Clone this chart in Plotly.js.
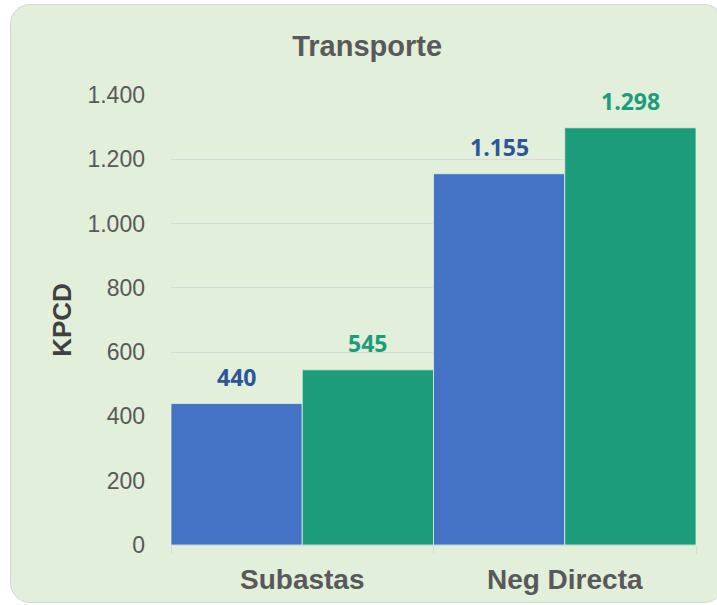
<!DOCTYPE html>
<html><head><meta charset="utf-8">
<script src="https://cdn.plot.ly/plotly-3.0.1.min.js"></script>
<style>
html,body{margin:0;padding:0;background:#fff;width:717px;height:605px;overflow:hidden;}
#bg{position:absolute;left:10px;top:4px;width:712px;height:597px;background:#E2EFDA;border:1.5px solid #D6D6D6;border-radius:20px;}
#chart{position:absolute;left:0;top:0;width:717px;height:605px;}
</style></head>
<body>
<div id="bg"></div>
<div id="chart"></div>
<script>
const categories = ["Subastas", "Neg Directa"];
const serieA = [440, 1155];
const serieB = [545, 1298];
const tickVals = [0, 200, 400, 600, 800, 1000, 1200, 1400];

const blue = "#4472C4", teal = "#1D9C7C";
const fmt = v => v.toLocaleString("de-DE");

const traces = [
  {type:"bar", name:"Serie A", x:categories, y:serieA, marker:{color:blue, line:{color:"#E2EFDA", width:0.8}}, hoverinfo:"y"},
  {type:"bar", name:"Serie B", x:categories, y:serieB, marker:{color:teal, line:{color:"#E2EFDA", width:0.8}}, hoverinfo:"y"}
];

const annotations = [];
categories.forEach((c, i) => {
  annotations.push({x:c, y:serieA[i], xshift:-65.5, yshift:27, text:fmt(serieA[i]), showarrow:false, xref:"x", yref:"y",
    font:{family:"Open Sans, Noto Sans, sans-serif", size:23, color:"#2E5597", weight:700}});
  annotations.push({x:c, y:serieB[i], xshift:65.5, yshift:27, text:fmt(serieB[i]), showarrow:false, xref:"x", yref:"y",
    font:{family:"Open Sans, Noto Sans, sans-serif", size:23, color:"#1D9C7C", weight:700}});
});

const layout = {
  width:717, height:605,
  margin:{l:171, r:21, t:95, b:60, pad:0},
  paper_bgcolor:"rgba(0,0,0,0)", plot_bgcolor:"rgba(0,0,0,0)",
  separators:",.",
  showlegend:false,
  barmode:"group", bargap:0, bargroupgap:0,
  title:{text:"<b>Transporte</b>", x:0.512, xanchor:"center", y:0.925, yanchor:"middle",
    font:{family:"Liberation Sans, Arial, sans-serif", size:29, color:"#595959"}},
  xaxis:{type:"category", showgrid:false, showline:true, linecolor:"#D9D9D9", linewidth:1,
    ticks:"outside", tickson:"boundaries", ticklen:8, tickcolor:"#D9D9D9", ticklabelstandoff:9,
    tickfont:{family:"Liberation Sans, Arial, sans-serif", size:28, color:"#595959", weight:700}},
  yaxis:{range:[0,1400], tickvals:tickVals, tickformat:",d", showgrid:true, gridcolor:"#D9D9D9", gridwidth:1,
    zeroline:false, showline:false, ticks:"", ticklabelstandoff:25,
    tickfont:{family:"Liberation Sans, Arial, sans-serif", size:23, color:"#595959"},
    title:{text:"<b>KPCD</b>", standoff:8, font:{family:"Liberation Sans, Arial, sans-serif", size:26, color:"#404040"}}},
  annotations: annotations
};

Plotly.newPlot("chart", traces, layout, {displayModeBar:false, staticPlot:true});
</script>
</body></html>
